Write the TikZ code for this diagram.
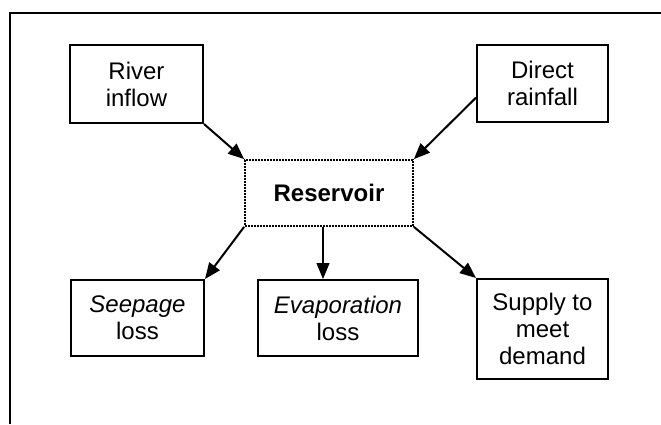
\documentclass[tikz,border=0pt]{standalone}
\usepackage{fontspec}
\setmainfont{Liberation Sans}
\usetikzlibrary{arrows.meta}
\begin{document}
\begin{tikzpicture}[x=1pt,y=-1pt,
  box/.style={draw, line width=2pt, inner sep=0pt, align=center,
    font=\fontsize{24}{27}\selectfont},
  flow/.style={line width=2pt, -{Triangle[length=16pt,width=13pt]}},
  thinflow/.style={line width=1.1pt, -{Triangle[length=16pt,width=13pt]}}]
\useasboundingbox (0,0) rectangle (661,424);
% outer frame (top and left edges)
\draw[line width=2pt] (10,424) -- (10,13) -- (661,13);
% sources
\node[box, minimum width=133pt, minimum height=78pt] (river) at (136.5,84) {River\\inflow};
\node[box, minimum width=131pt, minimum height=77pt] (rain) at (542.5,83.5) {Direct\\rainfall};
% reservoir
\node[box, densely dotted, line width=1.8pt, minimum width=168pt, minimum height=66pt,
  font=\fontsize{24}{27}\selectfont\bfseries] (res) at (329,193) {Reservoir};
% outflows
\node[box, minimum width=133pt, minimum height=76pt] (seep) at (137.5,318) {\textit{Seepage}\\loss};
\node[box, minimum width=160pt, minimum height=76pt] (evap) at (338,318) {\textit{Evaporation}\\loss};
\node[box, minimum width=131pt, minimum height=100pt] (supply) at (542.5,329) {Supply to\\meet\\demand};
% connectors
\draw[flow] (river.south east) -- (res.north west);
\draw[flow] (rain.192) -- (res.north east);
\draw[flow] (res.south west) -- (seep.north east);
\draw[thinflow] ([xshift=-6pt]res.south) -- ([xshift=-6pt]res.south |- evap.north);
\draw[flow] (res.south east) -- (supply.north west);
\end{tikzpicture}
\end{document}
